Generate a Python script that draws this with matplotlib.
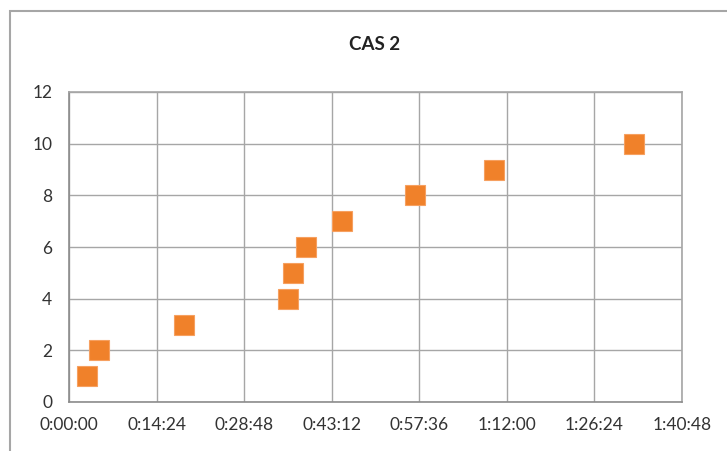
import matplotlib.pyplot as plt
from matplotlib.patches import Rectangle
from matplotlib.ticker import FuncFormatter, MultipleLocator

# Elapsed time (h:mm:ss) and count for CAS 2
times = ["0:02:55", "0:04:59", "0:18:55", "0:35:58", "0:36:53",
         "0:38:55", "0:44:53", "0:56:54", "1:09:53", "1:32:54"]
counts = [1, 2, 3, 4, 5, 6, 7, 8, 9, 10]
title = "CAS 2"


def to_seconds(t):
    h, m, s = (int(v) for v in t.split(":"))
    return h * 3600 + m * 60 + s


def fmt_time(x, pos):
    x = int(round(x))
    return f"{x // 3600}:{(x % 3600) // 60:02d}:{x % 60:02d}"


secs = [to_seconds(t) for t in times]

plt.rcParams['font.family'] = ['Lato', 'DejaVu Sans']

fig = plt.figure(figsize=(7.27, 4.51), dpi=100)
ax = fig.add_axes([69 / 727, 1 - 402 / 451, 613 / 727, 310 / 451])

ax.plot(secs, counts, linestyle="none", marker="s", markersize=14.4,
        markerfacecolor="#F0812A", markeredgecolor="#F6A060", markeredgewidth=0.8,
        zorder=3)

ax.set_xlim(0, 6048)
ax.set_ylim(0, 12)
ax.xaxis.set_major_locator(MultipleLocator(864))
ax.xaxis.set_major_formatter(FuncFormatter(fmt_time))
ax.yaxis.set_major_locator(MultipleLocator(2))

ax.grid(True, color="#A6A6A6", linewidth=1.0)
ax.set_axisbelow(True)
ax.tick_params(length=0, labelsize=12.5, colors="#333333")
ax.tick_params(axis="x", pad=11)
ax.tick_params(axis="y", pad=12)
for side in ["top", "right"]:
    ax.spines[side].set_color("#A6A6A6")
ax.spines["left"].set_color("#8C8C8C")
ax.spines["bottom"].set_color("#8C8C8C")
for sp in ax.spines.values():
    sp.set_linewidth(1.2)

fig.text(375 / 727, 1 - 45 / 451, title, ha="center", va="center",
         fontsize=13.5, fontweight="bold", color="#222222")

# outer chart border
fig.add_artist(Rectangle((10 / 727, -0.1), 1.0, 1 - 11 / 451 + 0.1,
                         transform=fig.transFigure, fill=False,
                         edgecolor="#A6A6A6", linewidth=1.5))

fig.savefig("out.png", dpi=100)
